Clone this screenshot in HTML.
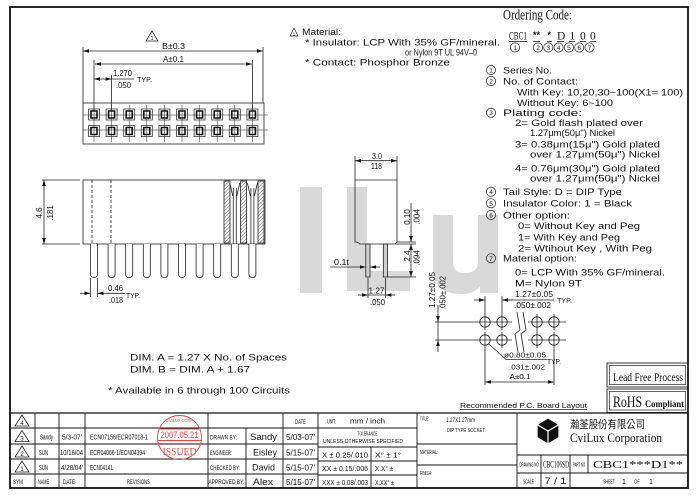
<!DOCTYPE html>
<html><head><meta charset="utf-8">
<style>
html,body{margin:0;padding:0;background:#fff;}
svg{display:block;}
text{font-family:"Liberation Sans","Noto Sans CJK TC",sans-serif;fill:#111;}
.s{font-family:"Liberation Serif","Noto Serif CJK SC",serif;}
.r{fill:#e04848;}
</style></head><body>
<svg width="700" height="495" viewBox="0 0 700 495" xmlns="http://www.w3.org/2000/svg">
<defs>
<marker id="ar" viewBox="0 0 10 6" refX="10" refY="3" markerWidth="6" markerHeight="3.6" orient="auto-start-reverse" markerUnits="userSpaceOnUse"><path d="M0,0 L10,3 L0,6 z" fill="#111"/></marker>
<pattern id="hatch" width="2.5" height="2.5" patternUnits="userSpaceOnUse" patternTransform="rotate(45)"><line x1="0" y1="0" x2="0" y2="2.5" stroke="#333" stroke-width="0.8"/></pattern>
</defs>
<rect width="700" height="495" fill="#fff"/>

<!-- watermark iLu -->
<g fill="#d9d9d9">
<rect x="300" y="187" width="22" height="106"/>
<path d="M347,187 H367 V271 H410 V291 H347 Z"/>
<path d="M433,215 H453 V262 Q453,273 465,273 Q478,273 478,262 V215 H498 V293 H480 V286 Q474,294 462,294 Q433,294 433,268 Z"/>
</g>

<!-- outer frame -->
<rect x="10" y="7" width="678" height="481" fill="none" stroke="#111" stroke-width="1.8"/>

<!-- ============ TOP VIEW ============ -->
<g stroke="#222" stroke-width="0.8" fill="none">
<polygon points="146,41 152,31 158,41"/>
<line x1="83" y1="51" x2="263" y2="51" marker-start="url(#ar)" marker-end="url(#ar)"/>
<line x1="83" y1="47" x2="83" y2="103"/>
<line x1="263" y1="47" x2="263" y2="103"/>
<line x1="95" y1="64" x2="252" y2="64" marker-start="url(#ar)" marker-end="url(#ar)"/>
<line x1="94" y1="60" x2="94" y2="110"/>
<line x1="252.4" y1="60" x2="252.4" y2="110"/>
<line x1="94" y1="79" x2="111.6" y2="79" marker-start="url(#ar)" marker-end="url(#ar)"/>
<line x1="111.6" y1="79" x2="134" y2="79"/>
<line x1="111.6" y1="75" x2="111.6" y2="110"/>
<rect x="83" y="103" width="181" height="41"/>
<line x1="83" y1="115" x2="268" y2="115" stroke-width="0.5"/>
<line x1="83" y1="130" x2="268" y2="130" stroke-width="0.5"/>
<path stroke-width="0.5" d="M94,105V142M111.6,105V142M129.2,105V142M146.8,105V142M164.4,105V142M182,105V142M199.6,105V142M217.2,105V142M234.8,105V142M252.4,105V142"/>
<path stroke="#333" stroke-width="0.8" d="M88.5,109h11v11h-11zM106.1,109h11v11h-11zM123.7,109h11v11h-11zM141.3,109h11v11h-11zM158.9,109h11v11h-11zM176.5,109h11v11h-11zM194.1,109h11v11h-11zM211.7,109h11v11h-11zM229.3,109h11v11h-11zM246.9,109h11v11h-11zM88.5,125.5h11v11h-11zM106.1,125.5h11v11h-11zM123.7,125.5h11v11h-11zM141.3,125.5h11v11h-11zM158.9,125.5h11v11h-11zM176.5,125.5h11v11h-11zM194.1,125.5h11v11h-11zM211.7,125.5h11v11h-11zM229.3,125.5h11v11h-11zM246.9,125.5h11v11h-11z"/>
<path stroke="#111" stroke-width="1.6" d="M91,111h6v7h-6zM108.6,111h6v7h-6zM126.2,111h6v7h-6zM143.8,111h6v7h-6zM161.4,111h6v7h-6zM179,111h6v7h-6zM196.6,111h6v7h-6zM214.2,111h6v7h-6zM231.8,111h6v7h-6zM249.4,111h6v7h-6zM91,127.5h6v7h-6zM108.6,127.5h6v7h-6zM126.2,127.5h6v7h-6zM143.8,127.5h6v7h-6zM161.4,127.5h6v7h-6zM179,127.5h6v7h-6zM196.6,127.5h6v7h-6zM214.2,127.5h6v7h-6zM231.8,127.5h6v7h-6zM249.4,127.5h6v7h-6z"/>
</g>
<text x="152" y="40" font-size="5" text-anchor="middle">1</text>
<text x="162" y="49" font-size="8.5" textLength="23" lengthAdjust="spacingAndGlyphs">B±0.3</text>
<text x="163" y="62" font-size="8.5" textLength="21" lengthAdjust="spacingAndGlyphs">A±0.1</text>
<text x="113" y="76" font-size="8" textLength="19" lengthAdjust="spacingAndGlyphs">1.270</text>
<text x="116" y="88" font-size="8" textLength="15" lengthAdjust="spacingAndGlyphs">.050</text>
<text x="137" y="82" font-size="7.5" textLength="15" lengthAdjust="spacingAndGlyphs">TYP.</text>

<!-- ============ SIDE VIEW ============ -->
<g stroke="#222" stroke-width="0.8" fill="none">
<rect x="83" y="180" width="182" height="64"/>
<line x1="92" y1="180" x2="92" y2="244" stroke-dasharray="3,2"/>
<line x1="111" y1="180" x2="111" y2="244" stroke-dasharray="3,2"/>
<line x1="42" y1="180" x2="80" y2="180"/>
<line x1="42" y1="244" x2="80" y2="244"/>
<line x1="44" y1="180" x2="44" y2="244" marker-start="url(#ar)" marker-end="url(#ar)"/>
<rect x="224" y="181" width="6" height="62" fill="url(#hatch)"/>
<rect x="240.6" y="181" width="6" height="62" fill="url(#hatch)"/>
<rect x="258" y="181" width="6" height="62" fill="url(#hatch)"/>
<path fill="#fff" d="M90.5,244V274Q90.5,277.5 94,277.5Q97.5,277.5 97.5,274V244M108.1,244V274Q108.1,277.5 111.6,277.5Q115.1,277.5 115.1,274V244M125.7,244V274Q125.7,277.5 129.2,277.5Q132.7,277.5 132.7,274V244M143.3,244V274Q143.3,277.5 146.8,277.5Q150.3,277.5 150.3,274V244M160.9,244V274Q160.9,277.5 164.4,277.5Q167.9,277.5 167.9,274V244M178.5,244V274Q178.5,277.5 182,277.5Q185.5,277.5 185.5,274V244M196.1,244V274Q196.1,277.5 199.6,277.5Q203.1,277.5 203.1,274V244M213.7,244V274Q213.7,277.5 217.2,277.5Q220.7,277.5 220.7,274V244M231.3,244V274Q231.3,277.5 234.8,277.5Q238.3,277.5 238.3,274V244M248.9,244V274Q248.9,277.5 252.4,277.5Q255.9,277.5 255.9,274V244"/>
<path d="M233.3,188V244M236.3,188V244M250.9,188V244M253.9,188V244M229.8,183L232.8,196M239.8,183L236.8,196M247.4,183L250.4,196M257.4,183L254.4,196"/>
<line x1="90.5" y1="278" x2="90.5" y2="297"/>
<line x1="97.5" y1="278" x2="97.5" y2="297"/>
<line x1="80" y1="293.3" x2="90.5" y2="293.3" marker-end="url(#ar)"/>
<line x1="106" y1="293.3" x2="97.5" y2="293.3" marker-end="url(#ar)"/>
<line x1="106" y1="293.3" x2="125" y2="293.3"/>
</g>
<text transform="translate(42,213) rotate(-90)" font-size="8" text-anchor="middle">4.6</text>
<text transform="translate(53,213) rotate(-90)" font-size="8" text-anchor="middle">.181</text>
<text x="108" y="291" font-size="8" textLength="15" lengthAdjust="spacingAndGlyphs">0.46</text>
<text x="109" y="303" font-size="8" textLength="14" lengthAdjust="spacingAndGlyphs">.018</text>
<text x="126" y="298" font-size="7.5" textLength="14" lengthAdjust="spacingAndGlyphs">TYP.</text>

<!-- ============ END VIEW ============ -->
<g stroke="#222" stroke-width="0.8" fill="none">
<line x1="355" y1="160.7" x2="397" y2="160.7" marker-start="url(#ar)" marker-end="url(#ar)"/>
<line x1="355" y1="156" x2="355" y2="180"/>
<line x1="397" y1="156" x2="397" y2="180"/>
<path d="M355,180H397V242L395,244H360L357,242H355Z"/>
<rect x="365.8" y="244" width="4.2" height="33" fill="#cfcfcf"/>
<rect x="383.3" y="244" width="4.2" height="33" fill="#cfcfcf"/>
<line x1="397" y1="242" x2="416" y2="242"/>
<line x1="395" y1="244" x2="416" y2="244"/>
<line x1="411" y1="203" x2="411" y2="242" marker-end="url(#ar)"/>
<line x1="411" y1="244" x2="411" y2="277" marker-start="url(#ar)" marker-end="url(#ar)"/>
<line x1="387.5" y1="277" x2="416" y2="277"/>
<line x1="330" y1="267" x2="365.8" y2="267" marker-end="url(#ar)"/>
<line x1="380" y1="267" x2="370" y2="267" marker-end="url(#ar)"/>
<line x1="368" y1="278" x2="368" y2="298"/>
<line x1="385.4" y1="278" x2="385.4" y2="298"/>
<line x1="358" y1="295" x2="368" y2="295" marker-end="url(#ar)"/>
<line x1="395" y1="295" x2="385.4" y2="295" marker-end="url(#ar)"/>
<line x1="368" y1="295" x2="385.4" y2="295"/>
</g>
<text x="372" y="159" font-size="8" textLength="10" lengthAdjust="spacingAndGlyphs">3.0</text>
<text x="371" y="169" font-size="8" textLength="11" lengthAdjust="spacingAndGlyphs">118</text>
<text transform="translate(410,217) rotate(-90)" font-size="8" text-anchor="middle">0.10</text>
<text transform="translate(419.5,217) rotate(-90)" font-size="8" text-anchor="middle">.004</text>
<text transform="translate(410,256) rotate(-90)" font-size="8" text-anchor="middle">2.4</text>
<text transform="translate(419.5,258) rotate(-90)" font-size="8" text-anchor="middle">.094</text>
<text x="334" y="265" font-size="8" textLength="15" lengthAdjust="spacingAndGlyphs">0.1t</text>
<text x="368.5" y="293.5" font-size="8" textLength="16" lengthAdjust="spacingAndGlyphs">1.27</text>
<text x="370" y="305" font-size="8" textLength="15" lengthAdjust="spacingAndGlyphs">.050</text>

<!-- ============ PCB LAYOUT ============ -->
<g stroke="#222" stroke-width="0.8" fill="none">
<line x1="438" y1="305" x2="438" y2="322" marker-end="url(#ar)"/>
<line x1="438" y1="352" x2="438" y2="340" marker-end="url(#ar)"/>
<line x1="438" y1="322" x2="438" y2="340"/>
<line x1="435" y1="322" x2="512" y2="322"/>
<line x1="528" y1="322" x2="566" y2="322"/>
<line x1="435" y1="340" x2="512" y2="340"/>
<line x1="528" y1="340" x2="566" y2="340"/>
<circle cx="485" cy="322" r="5.2"/><circle cx="502" cy="322" r="5.2"/>
<circle cx="537" cy="322" r="5.2"/><circle cx="554" cy="322" r="5.2"/>
<circle cx="485" cy="340" r="5.2"/><circle cx="502" cy="340" r="5.2"/>
<circle cx="537" cy="340" r="5.2"/><circle cx="554" cy="340" r="5.2"/>
<path d="M485,296V330M502,296V330M537,314V348M554,314V330M485,332V385M554,332V385M502,332V348"/>
<line x1="474" y1="300" x2="485" y2="300" marker-end="url(#ar)"/>
<line x1="513" y1="300" x2="502" y2="300" marker-end="url(#ar)"/>
<line x1="502" y1="300" x2="554" y2="300"/>
<polyline points="517,312 520,330 515,334 518,352"/>
<polyline points="523,312 526,330 521,334 524,352"/>
<polyline points="489,344 506,359.5 547,359.5"/>
<line x1="485" y1="382" x2="554" y2="382" marker-start="url(#ar)" marker-end="url(#ar)"/>
<line x1="460" y1="409.5" x2="587" y2="409.5"/>
</g>
<text transform="translate(435,290) rotate(-90)" font-size="8" text-anchor="middle" textLength="36" lengthAdjust="spacingAndGlyphs">1.27±0.05</text>
<text transform="translate(445.5,293) rotate(-90)" font-size="8" text-anchor="middle" textLength="34" lengthAdjust="spacingAndGlyphs">.050±.002</text>
<text x="515" y="297" font-size="8" textLength="38" lengthAdjust="spacingAndGlyphs">1.27±0.05</text>
<text x="514" y="308" font-size="8" textLength="37" lengthAdjust="spacingAndGlyphs">.050±.002</text>
<text x="557" y="303" font-size="7.5" textLength="15" lengthAdjust="spacingAndGlyphs">TYP.</text>
<text x="504" y="357.5" font-size="7.5" textLength="42" lengthAdjust="spacingAndGlyphs">ø0.80±0.05</text>
<text x="547" y="364" font-size="7.5" textLength="14" lengthAdjust="spacingAndGlyphs">TYP.</text>
<text x="509" y="369.5" font-size="7.5" textLength="36" lengthAdjust="spacingAndGlyphs">.031±.002</text>
<text x="520" y="379" font-size="7.5" text-anchor="middle" textLength="21" lengthAdjust="spacingAndGlyphs">A±0.1</text>
<text x="460" y="408" font-size="7.5" textLength="127" lengthAdjust="spacingAndGlyphs">Recommended P.C. Board Layout</text>

<!-- Lead Free / RoHS -->
<g stroke="#222" fill="none">
<rect x="607" y="363" width="81" height="24" stroke-width="0.9"/>
<rect x="609.5" y="365.5" width="76" height="19" stroke-width="0.7"/>
<rect x="607" y="389" width="81" height="23.5" stroke-width="0.9"/>
<rect x="609.5" y="391.5" width="76" height="18.5" stroke-width="0.7"/>
</g>
<text class="s" x="613" y="381" font-size="12" textLength="70" lengthAdjust="spacingAndGlyphs">Lead Free Process</text>
<text class="s" x="613" y="407" font-size="16" textLength="29" lengthAdjust="spacingAndGlyphs">RoHS</text>
<text class="s" x="645" y="407" font-size="9.5" font-weight="bold" textLength="39" lengthAdjust="spacingAndGlyphs">Compliant</text>

<!-- ============ MATERIAL / ORDERING ============ -->
<polygon points="290,36 294,28 298,36" fill="none" stroke="#222" stroke-width="0.7"/>
<text x="294" y="35.3" font-size="4.5" text-anchor="middle">1</text>
<text x="302" y="35" font-size="9" textLength="39" lengthAdjust="spacingAndGlyphs">Material:</text>
<text x="305" y="45.5" font-size="9" textLength="195" lengthAdjust="spacingAndGlyphs">*  Insulator: LCP With 35% GF/mineral.</text>
<text x="405" y="55.5" font-size="9" textLength="72" lengthAdjust="spacingAndGlyphs">or Nylon 9T UL 94V–0</text>
<text x="305" y="65.5" font-size="9" textLength="145" lengthAdjust="spacingAndGlyphs">*  Contact: Phosphor Bronze</text>

<text class="s" x="503" y="19.5" font-size="15" textLength="69" lengthAdjust="spacingAndGlyphs">Ordering Code:</text>
<text class="s" x="509" y="39.5" font-size="12" textLength="18" lengthAdjust="spacingAndGlyphs">CBC1</text>
<text x="533" y="38" font-size="9" font-weight="bold" textLength="7" lengthAdjust="spacingAndGlyphs">**</text>
<text x="547.5" y="38" font-size="9" font-weight="bold">*</text>
<text class="s" x="557" y="39.5" font-size="11.5">D</text>
<text class="s" x="569.5" y="39.5" font-size="11.5">1</text>
<text class="s" x="580" y="39.5" font-size="11.5">0</text>
<text class="s" x="590" y="39.5" font-size="11.5">0</text>
<path stroke="#111" stroke-width="0.8" d="M509,41.5H527M533,41.5H540M547,41.5H552M557,41.5H564M569,41.5H575M580,41.5H586M590,41.5H596"/>
<g fill="none" stroke="#222" stroke-width="0.7">
<circle cx="515" cy="47.5" r="4.6"/><circle cx="538" cy="47.5" r="4.6"/><circle cx="548.3" cy="47.5" r="4.6"/><circle cx="558.6" cy="47.5" r="4.6"/><circle cx="568.9" cy="47.5" r="4.6"/><circle cx="579.2" cy="47.5" r="4.6"/><circle cx="589.5" cy="47.5" r="4.6"/>
</g>
<g font-size="6.5" text-anchor="middle">
<text x="515" y="50">1</text><text x="538" y="50">2</text><text x="548.3" y="50">3</text><text x="558.6" y="50">4</text><text x="568.9" y="50">5</text><text x="579.2" y="50">6</text><text x="589.5" y="50">7</text>
</g>

<!-- list circles -->
<g fill="none" stroke="#222" stroke-width="0.7">
<circle cx="491" cy="70" r="4.6"/><circle cx="491" cy="81" r="4.6"/><circle cx="491" cy="112.7" r="4.6"/>
<circle cx="491" cy="191.7" r="4.6"/><circle cx="491" cy="203.3" r="4.6"/><circle cx="491" cy="215" r="4.6"/><circle cx="491" cy="258.3" r="4.6"/>
</g>
<g font-size="6.5" text-anchor="middle">
<text x="491" y="72.5">1</text><text x="491" y="83.5">2</text><text x="491" y="115.2">3</text>
<text x="491" y="194.2">4</text><text x="491" y="205.8">5</text><text x="491" y="217.5">6</text><text x="491" y="260.8">7</text>
</g>
<g font-size="9">
<text x="503" y="73.3" textLength="49" lengthAdjust="spacingAndGlyphs">Series No.</text>
<text x="503" y="84.3" textLength="75" lengthAdjust="spacingAndGlyphs">No. of Contact:</text>
<text x="517" y="95.3" textLength="166" lengthAdjust="spacingAndGlyphs">With Key: 10,20,30~100(X1= 100)</text>
<text x="517" y="106" textLength="96" lengthAdjust="spacingAndGlyphs">Without Key: 6~100</text>
<text x="503" y="116" textLength="79" lengthAdjust="spacingAndGlyphs">Plating code:</text>
<text x="515" y="126" textLength="128" lengthAdjust="spacingAndGlyphs">2= Gold flash plated over</text>
<text x="530" y="136" textLength="85" lengthAdjust="spacingAndGlyphs">1.27μm(50μ") Nickel</text>
<text x="515" y="147.3" textLength="145" lengthAdjust="spacingAndGlyphs">3= 0.38μm(15μ") Gold plated</text>
<text x="530" y="157.6" textLength="130" lengthAdjust="spacingAndGlyphs">over 1.27μm(50μ") Nickel</text>
<text x="515" y="171.3" textLength="145" lengthAdjust="spacingAndGlyphs">4= 0.76μm(30μ") Gold plated</text>
<text x="530" y="181.6" textLength="130" lengthAdjust="spacingAndGlyphs">over 1.27μm(50μ") Nickel</text>
<text x="503" y="195" textLength="119" lengthAdjust="spacingAndGlyphs">Tail Style: D = DIP Type</text>
<text x="503" y="206.6" textLength="129" lengthAdjust="spacingAndGlyphs">Insulator Color: 1 = Black</text>
<text x="503" y="218.3" textLength="67" lengthAdjust="spacingAndGlyphs">Other option:</text>
<text x="518" y="229" textLength="122" lengthAdjust="spacingAndGlyphs">0= Without Key and Peg</text>
<text x="518" y="240.3" textLength="102" lengthAdjust="spacingAndGlyphs">1= With Key and Peg</text>
<text x="518" y="251.6" textLength="134" lengthAdjust="spacingAndGlyphs">2= Wtihout Key , With Peg</text>
<text x="503" y="261.6" textLength="74" lengthAdjust="spacingAndGlyphs">Material option:</text>
<text x="515" y="275.5" textLength="150" lengthAdjust="spacingAndGlyphs">0= LCP With 35% GF/mineral.</text>
<text x="515" y="286.3" textLength="67" lengthAdjust="spacingAndGlyphs">M= Nylon 9T</text>
</g>

<!-- left notes -->
<g font-size="9">
<text x="130" y="360.5" textLength="157" lengthAdjust="spacingAndGlyphs">DIM. A = 1.27 X No. of Spaces</text>
<text x="130" y="372.5" textLength="120" lengthAdjust="spacingAndGlyphs">DIM. B = DIM. A + 1.67</text>
<text x="108" y="393.5" textLength="182" lengthAdjust="spacingAndGlyphs">*  Available in 6 through 100 Circuits</text>
</g>

<!-- ============ TITLE BLOCK ============ -->
<g stroke="#111" stroke-width="0.9" fill="none">
<line x1="10" y1="413" x2="688" y2="413" stroke-width="1.2"/>
<line x1="10" y1="428" x2="417" y2="428"/>
<line x1="10" y1="444" x2="318" y2="444"/>
<line x1="10" y1="459" x2="318" y2="459"/>
<line x1="10" y1="474" x2="318" y2="474"/>
<path d="M35,413V488M59,413V488M85,413V488M208,413V488M246,428V488M283,413V488M318,413V488M417,413V488M517,413V488"/>
<line x1="318" y1="447" x2="417" y2="447"/>
<line x1="318" y1="461" x2="417" y2="461"/>
<line x1="318" y1="475" x2="417" y2="475"/>
<line x1="371" y1="447" x2="371" y2="488"/>
<line x1="417" y1="444" x2="517" y2="444"/>
<line x1="417" y1="465" x2="517" y2="465"/>
<line x1="517" y1="455" x2="688" y2="455"/>
<line x1="517" y1="473" x2="688" y2="473"/>
<path d="M541,455V488M570,455V488M588,455V473"/>
</g>
<!-- SYM triangles -->
<g fill="none" stroke="#222" stroke-width="0.8">
<polygon points="15,426 22,415 29,426"/>
<polygon points="15,441.5 22,430.5 29,441.5"/>
<polygon points="15,457 22,446 29,457"/>
<polygon points="15,472 22,461 29,472"/>
</g>
<g font-size="6" text-anchor="middle">
<text x="22" y="425">4</text><text x="22" y="440.5">3</text><text x="22" y="456">2</text><text x="22" y="471">1</text>
</g>
<!-- stamp -->
<g stroke="#e04848" fill="none" stroke-width="0.9">
<circle cx="179.5" cy="437.5" r="22"/>
<line x1="160" y1="429" x2="199" y2="429"/>
<line x1="158" y1="440.5" x2="201" y2="440.5"/>
</g>
<text class="r" x="179.5" y="422" font-size="4.5" text-anchor="middle" textLength="27" lengthAdjust="spacingAndGlyphs">CVILUX CORP</text>
<text class="r" x="179.5" y="438" font-size="9" text-anchor="middle" textLength="38" lengthAdjust="spacingAndGlyphs">2007.05.21</text>
<text class="r s" x="179.5" y="455" font-size="11" text-anchor="middle" textLength="34" lengthAdjust="spacingAndGlyphs">ISSUED</text>

<g font-size="7">
<text x="300.5" y="424" font-size="6" text-anchor="middle" textLength="11" lengthAdjust="spacingAndGlyphs">DATE</text>
<text x="40" y="439.5" textLength="13" lengthAdjust="spacingAndGlyphs">Sandy</text>
<text x="62" y="439.5" textLength="20" lengthAdjust="spacingAndGlyphs">5/3-07'</text>
<text x="90" y="439.5" textLength="58" lengthAdjust="spacingAndGlyphs">ECN07156/ECR07018-1</text>
<text x="210" y="439.5" font-size="6" textLength="27" lengthAdjust="spacingAndGlyphs">DRAWN BY:</text>
<text x="286" y="440" font-size="8.5" textLength="29" lengthAdjust="spacingAndGlyphs">5/03-07'</text>
<text x="39" y="455" textLength="9" lengthAdjust="spacingAndGlyphs">SUN</text>
<text x="60" y="455" textLength="23" lengthAdjust="spacingAndGlyphs">10/18/04</text>
<text x="90" y="455" textLength="55" lengthAdjust="spacingAndGlyphs">ECR04066-1/ECN04394</text>
<text x="210" y="455" font-size="6" textLength="22" lengthAdjust="spacingAndGlyphs">ENGINEER:</text>
<text x="286" y="455.5" font-size="8.5" textLength="29" lengthAdjust="spacingAndGlyphs">5/15-07'</text>
<text x="39" y="470" textLength="9" lengthAdjust="spacingAndGlyphs">SUN</text>
<text x="61" y="470" textLength="22" lengthAdjust="spacingAndGlyphs">4/28/04'</text>
<text x="90" y="470" textLength="23" lengthAdjust="spacingAndGlyphs">ECN04141</text>
<text x="210" y="470" font-size="6" textLength="30" lengthAdjust="spacingAndGlyphs">CHECKED BY:</text>
<text x="286" y="470.5" font-size="8.5" textLength="29" lengthAdjust="spacingAndGlyphs">5/15-07'</text>
<text x="13" y="484" font-size="6" textLength="10" lengthAdjust="spacingAndGlyphs">SYM</text>
<text x="38" y="484" font-size="6" textLength="11" lengthAdjust="spacingAndGlyphs">NAME</text>
<text x="63" y="484" font-size="6" textLength="12" lengthAdjust="spacingAndGlyphs">DATE</text>
<text x="127" y="484" font-size="6" textLength="23" lengthAdjust="spacingAndGlyphs">REVISIONS</text>
<text x="208.5" y="484" font-size="6" textLength="36" lengthAdjust="spacingAndGlyphs">APPROVED BY:</text>
<text x="286" y="485" font-size="8.5" textLength="29" lengthAdjust="spacingAndGlyphs">5/15-07'</text>
</g>
<g font-size="9.5">
<text x="250" y="440" textLength="27" lengthAdjust="spacingAndGlyphs">Sandy</text>
<text x="253" y="455.5" textLength="24" lengthAdjust="spacingAndGlyphs">Eisley</text>
<text x="252" y="470.5" textLength="23" lengthAdjust="spacingAndGlyphs">David</text>
<text x="253" y="485" textLength="20" lengthAdjust="spacingAndGlyphs">Alex</text>
</g>
<!-- unit column -->
<text x="327" y="423.5" font-size="6" textLength="9" lengthAdjust="spacingAndGlyphs">UNIT:</text>
<text x="350" y="423.5" font-size="7" textLength="35" lengthAdjust="spacingAndGlyphs">mm / inch</text>
<text x="367.5" y="435.5" font-size="5" text-anchor="middle" textLength="20" lengthAdjust="spacingAndGlyphs">TOLERANCE</text>
<text x="363" y="443" font-size="5" text-anchor="middle" textLength="80" lengthAdjust="spacingAndGlyphs">UNLESS OTHERWISE SPECIFIED</text>
<g font-size="7">
<text x="322" y="457.5" textLength="46" lengthAdjust="spacingAndGlyphs">X  ±  0.25/.010</text>
<text x="375" y="457.5" textLength="26" lengthAdjust="spacingAndGlyphs">X°  ±  1°</text>
<text x="322" y="471" textLength="46" lengthAdjust="spacingAndGlyphs">XX  ±  0.15/.006</text>
<text x="375" y="471" textLength="18" lengthAdjust="spacingAndGlyphs">X.X° ±</text>
<text x="322" y="485" textLength="46" lengthAdjust="spacingAndGlyphs">XXX ± 0.08/.003</text>
<text x="375" y="485" textLength="19" lengthAdjust="spacingAndGlyphs">X.XX° ±</text>
</g>
<!-- title column -->
<text x="420" y="420.5" font-size="5.5" textLength="9" lengthAdjust="spacingAndGlyphs">TITLE:</text>
<text x="446" y="422" font-size="6" textLength="29" lengthAdjust="spacingAndGlyphs">1.27X1.27mm</text>
<text x="447" y="432" font-size="5.5" textLength="38" lengthAdjust="spacingAndGlyphs">DIP TYPE SOCKET</text>
<text x="420" y="454" font-size="5.5" textLength="18" lengthAdjust="spacingAndGlyphs">MATERIAL:</text>
<text x="420" y="475" font-size="5.5" textLength="12" lengthAdjust="spacingAndGlyphs">FINISH:</text>
<!-- logo -->
<g stroke="#fff" stroke-width="1.2" fill="#111">
<polygon points="548,418 559,424.5 559,437.5 548,444 537,437.5 537,424.5"/>
<polyline points="537,424.5 548,431 559,424.5" fill="none"/>
<line x1="548" y1="431" x2="548" y2="444"/>
</g>
<text x="570" y="428" font-size="11" font-family="'Noto Sans CJK TC','WenQuanYi Zen Hei',sans-serif" textLength="75" lengthAdjust="spacingAndGlyphs">瀚荃股份有限公司</text>
<text class="s" x="570" y="442" font-size="13" textLength="92" lengthAdjust="spacingAndGlyphs">CviLux  Corporation</text>
<text x="519.5" y="466.5" font-size="5.5" textLength="20" lengthAdjust="spacingAndGlyphs">DRAWING NO.</text>
<text class="s" x="543" y="467.5" font-size="9" textLength="26" lengthAdjust="spacingAndGlyphs">CBC106SD</text>
<text x="573" y="466.5" font-size="5.5" textLength="13" lengthAdjust="spacingAndGlyphs">PART NO.</text>
<text class="s" x="593" y="468" font-size="10" textLength="90" lengthAdjust="spacingAndGlyphs">CBC1***D1**</text>
<text x="523" y="483.5" font-size="5.5" textLength="11" lengthAdjust="spacingAndGlyphs">SCALE</text>
<text x="555.5" y="484" font-size="9.5" text-anchor="middle" textLength="22" lengthAdjust="spacingAndGlyphs">7 / 1</text>
<text x="603" y="483.5" font-size="5.5" textLength="12" lengthAdjust="spacingAndGlyphs">SHEET</text>
<text x="622" y="484" font-size="7">1</text>
<text x="634" y="483.5" font-size="5.5" textLength="6" lengthAdjust="spacingAndGlyphs">OF</text>
<text x="649" y="484" font-size="7">1</text>
</svg>
</body></html>
